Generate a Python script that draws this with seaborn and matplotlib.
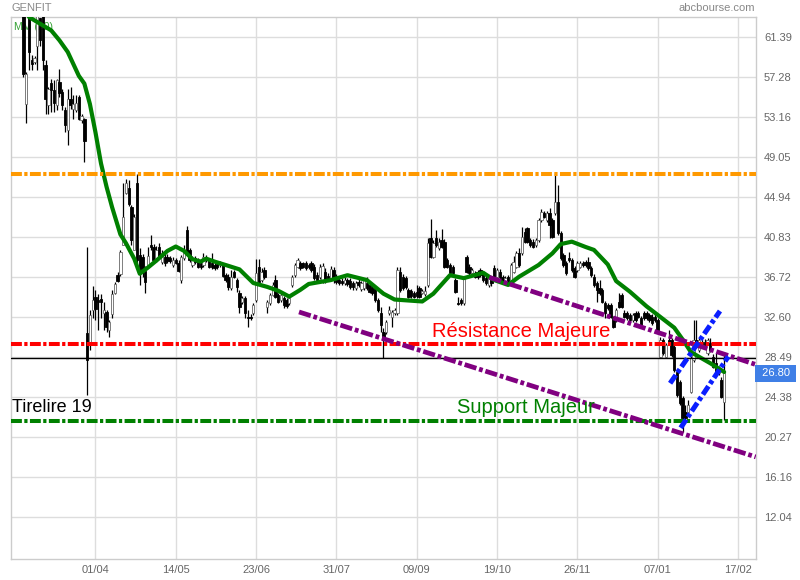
import numpy as np
import pandas as pd
import matplotlib
matplotlib.use("Agg")
import matplotlib.pyplot as plt
import matplotlib.transforms as mtransforms
import seaborn as sns

# ---- daily candles (trading day index 0..253) ----
opens = [
    64.5, 54.47, 64.0, 59.06, 58.79, 60.46, 63.3, 63.9, 58.48, 54.37,
    56.66, 55.97, 54.37, 56.76, 55.74, 53.92, 51.8, 55.05, 54.02, 53.85,
    55.22, 52.9, 52.99, 30.96,
    29.9, 33.32, 34.69, 34.35, 34.45, 32.98, 33.15, 31.27, 32.91, 35.1,
    36.92, 37.02, 40.01, 45.38, 45.83, 43.88, 39.49, 46.35,
    38.98, 38.8, 37.36, 37.95, 40.01, 39.83, 38.46, 39.83, 38.29, 38.77,
    38.8, 38.64, 37.95, 38.46, 38.19, 36.41, 38.67, 41.55,
    39.49, 37.95, 38.64, 38.46, 38.12, 37.95, 38.8, 38.46, 38.12, 37.95,
    38.05, 37.95, 37.95, 36.92, 36.75, 35.55, 37.26, 36.41, 35.04, 34.18,
    34.53, 32.63, 32.63, 32.98, 34.35, 37.77, 36.41, 37.44, 33.66, 34.01,
    34.87, 36.41, 34.87, 34.35, 34.53, 34.35, 34.01, 35.89, 36.92, 37.77,
    38.12, 38.12, 38.12, 37.95, 38.12, 37.77, 36.92, 36.75, 36.41, 37.26,
    36.82, 36.58, 37.44, 36.75, 36.41, 36.33, 36.07, 36.41, 36.33, 36.07,
    35.55, 36.23, 35.45, 35.55, 36.13, 35.89, 35.55, 35.38, 34.35, 32.98,
    31.09, 31.09, 32.98, 32.63, 32.98, 32.98, 37.26, 36.75, 36.58, 35.38,
    35.31, 35.04, 35.2, 35.55, 35.12, 34.97, 35.89, 40.69, 38.8, 40.69,
    39.67, 40.52, 40.34, 38.46, 37.95, 37.77, 36.41, 34.01, 34.35, 34.01,
    38.74, 37.77, 37.1, 37.1, 37.26, 37.44, 37.1, 36.58, 35.89, 36.41,
    37.61, 36.75, 37.26, 36.75, 36.23, 36.75, 36.41, 37.26, 37.77, 39.15,
    39.15, 41.37, 41.72, 40.52, 40.34, 40.01, 40.52, 42.58, 43.26, 42.58,
    43.26, 42.58, 43.26, 44.46, 41.21, 38.98, 38.12, 38.64, 38.46, 37.61,
    37.44, 37.77, 38.12, 38.29, 38.29, 37.61, 36.75, 36.07, 35.55, 35.38,
    34.01, 33.84, 33.84, 32.47, 32.29, 34.18, 34.87, 33.05, 32.98, 32.81,
    32.29, 32.98, 32.98, 32.47, 32.98, 32.98, 32.81, 32.63, 32.63, 32.29,
    28.52, 30.24, 28.52, 30.24, 30.24, 29.55, 26.98, 25.95, 24.28, 22.87,
    22.87, 24.92, 28.18, 30.24, 29.21, 30.07, 30.07, 28.87, 29.9, 28.52,
    27.84, 26.81, 26.13, 23.89]

closes = [
    57.56, 57.56, 59.85, 58.58, 59.26, 63.8, 61.1, 59.0, 55.05, 56.07,
    55.91, 54.6, 56.94, 55.63, 54.37, 52.31, 55.05, 54.37, 54.47, 54.6,
    52.99, 53.27, 50.7, 28.21,
    32.81, 34.35, 33.39, 34.18, 34.18, 33.32, 31.61, 32.12, 34.97, 36.0,
    36.3, 39.32, 42.92, 46.35, 44.22, 40.52, 42.92, 38.46,
    37.61, 37.44, 36.23, 38.87, 39.83, 38.46, 39.49, 38.87, 39.15, 38.15,
    38.36, 38.39, 38.46, 38.19, 37.36, 38.8, 39.49, 39.15,
    38.46, 38.64, 38.29, 37.77, 37.71, 38.8, 38.46, 37.77, 37.71, 37.61,
    37.71, 38.12, 36.82, 36.41, 35.66, 36.75, 36.75, 35.66, 33.6, 34.53,
    32.98, 32.47, 32.47, 33.84, 37.1, 36.23, 37.26, 36.75, 34.18, 34.87,
    35.89, 34.69, 34.18, 34.87, 33.84, 33.73, 34.53, 36.75, 37.95, 38.46,
    37.61, 37.77, 37.61, 37.71, 37.44, 36.58, 36.41, 37.77, 37.85, 36.41,
    36.51, 37.51, 36.41, 36.23, 36.13, 36.07, 36.41, 36.0, 35.72, 35.66,
    36.07, 35.89, 36.07, 36.41, 35.55, 35.2, 35.04, 34.35, 33.32, 31.78,
    30.24, 32.12, 33.32, 33.15, 33.32, 37.44, 35.38, 35.55, 35.72, 34.69,
    34.76, 34.69, 34.76, 34.69, 35.27, 35.31, 40.18, 38.8, 40.18, 40.01,
    40.34, 39.83, 37.77, 37.77, 37.1, 37.1, 35.2, 33.94, 34.01, 36.58,
    37.26, 37.1, 37.44, 36.75, 36.68, 36.92, 36.41, 36.07, 36.58, 36.07,
    36.75, 37.44, 36.75, 36.41, 36.58, 36.23, 37.95, 38.29, 39.15, 37.95,
    40.86, 40.34, 40.34, 40.01, 39.83, 40.52, 42.58, 43.43, 42.92, 43.26,
    42.06, 40.86, 44.46, 41.21, 38.64, 37.95, 37.1, 38.46, 37.44, 36.75,
    38.12, 38.12, 37.95, 37.95, 37.61, 36.92, 35.89, 35.38, 35.04, 34.18,
    32.98, 33.5, 32.63, 31.61, 33.32, 33.66, 33.66, 32.63, 32.47, 32.29,
    32.81, 32.29, 32.63, 31.78, 32.47, 32.47, 32.29, 31.96, 32.29, 31.27,
    30.24, 28.87, 29.73, 29.9, 28.7, 27.15, 24.58, 23.73, 22.19, 22.19,
    23.56, 28.36, 30.24, 29.55, 30.24, 29.73, 29.55, 30.24, 29.21, 27.49,
    26.81, 27.33, 24.41, 26.8]

highs = [
    65.0, 57.8, 64.5, 59.54, 59.4, 64.0, 64.0, 64.5, 59.0, 56.3,
    57.1, 56.97, 57.1, 58.13, 56.07, 54.2, 56.07, 56.25, 55.43, 55.43,
    55.43, 53.5, 53.1, 39.8,
    33.32, 35.79, 35.38, 34.97, 34.97, 34.18, 33.32, 32.29, 35.38, 36.2,
    37.26, 39.49, 46.35, 46.76, 46.69, 44.1, 43.19, 47.31,
    39.67, 39.08, 37.85, 39.83, 41.03, 40.1, 39.9, 40.2, 39.49, 39.08,
    39.08, 38.87, 38.77, 38.67, 38.46, 38.98, 40.0, 41.96,
    39.7, 38.87, 38.87, 38.67, 38.36, 39.18, 38.98, 38.67, 39.15, 38.15,
    38.26, 38.36, 38.15, 37.13, 37.02, 37.44, 37.44, 36.61, 35.38, 34.76,
    34.76, 33.32, 32.91, 34.04, 38.54, 38.54, 37.64, 37.77, 34.35, 35.07,
    36.2, 36.92, 35.07, 35.07, 34.76, 34.56, 34.76, 36.92, 38.15, 38.64,
    38.36, 38.26, 38.36, 38.15, 38.36, 38.05, 37.2, 38.05, 38.15, 37.64,
    37.13, 37.85, 37.74, 37.02, 36.72, 36.61, 36.72, 36.61, 36.61, 36.3,
    36.3, 36.51, 36.3, 36.61, 36.75, 36.1, 35.79, 35.59, 34.56, 33.66,
    31.47, 32.29, 33.73, 33.32, 33.53, 37.77, 37.77, 37.02, 36.82, 35.59,
    35.48, 35.27, 35.89, 35.79, 35.48, 35.79, 40.69, 42.65, 40.52, 41.55,
    40.72, 41.62, 40.62, 38.67, 38.15, 37.95, 36.61, 34.69, 34.56, 36.82,
    38.98, 38.05, 37.64, 37.33, 37.44, 37.64, 37.33, 36.82, 36.82, 36.61,
    37.95, 37.64, 37.54, 36.92, 36.82, 36.92, 38.15, 38.87, 39.39, 39.67,
    41.89, 41.75, 41.89, 40.72, 40.62, 40.72, 42.78, 43.71, 43.5, 43.5,
    43.78, 42.78, 47.38, 46.17, 41.44, 39.18, 38.36, 39.32, 38.67, 37.85,
    38.36, 38.36, 38.36, 38.46, 38.8, 37.85, 37.02, 36.3, 36.41, 35.59,
    34.25, 34.04, 34.04, 32.71, 33.53, 35.04, 35.04, 33.32, 33.22, 33.01,
    33.01, 33.22, 33.22, 32.71, 33.22, 33.22, 33.01, 32.91, 32.91, 32.5,
    30.58, 30.45, 29.94, 31.27, 30.45, 29.73, 27.15, 26.13, 24.48, 23.56,
    24.07, 28.59, 32.29, 32.29, 30.45, 30.35, 30.35, 30.45, 30.41, 28.8,
    28.87, 27.56, 26.47, 28.7]

lows = [
    57.3, 52.58, 58.0, 58.0, 58.6, 58.0, 60.5, 58.0, 53.44, 53.47,
    53.68, 53.68, 53.89, 55.22, 53.89, 51.62, 50.26, 54.0, 52.99, 53.68,
    52.86, 52.5, 48.54, 24.55,
    29.21, 32.47, 32.29, 31.27, 32.5, 31.27, 31.09, 30.58, 32.5, 34.97,
    36.23, 36.82, 40.01, 45.25, 44.0, 40.01, 39.49, 37.95,
    35.89, 36.75, 35.04, 37.74, 39.49, 38.26, 38.26, 38.67, 38.05, 37.85,
    38.15, 38.15, 37.74, 38.05, 37.2, 36.07, 38.46, 38.98,
    38.26, 37.74, 38.05, 37.61, 37.54, 37.74, 38.26, 37.61, 37.54, 37.44,
    37.54, 37.77, 36.72, 36.2, 35.38, 35.38, 36.58, 35.2, 33.01, 33.94,
    32.47, 31.54, 32.29, 32.81, 34.18, 36.07, 36.2, 36.51, 32.98, 33.84,
    34.76, 34.53, 34.01, 34.14, 33.5, 33.5, 33.84, 35.69, 36.72, 37.64,
    37.44, 37.64, 37.44, 37.54, 37.2, 36.41, 36.1, 36.51, 36.1, 36.1,
    36.3, 36.41, 36.1, 36.0, 35.89, 35.89, 35.89, 35.79, 35.48, 35.38,
    35.38, 35.69, 35.27, 35.38, 35.38, 35.07, 34.87, 34.14, 33.12, 31.09,
    28.36, 30.85, 32.81, 31.61, 32.81, 32.81, 35.17, 35.38, 35.48, 34.56,
    34.56, 34.56, 34.53, 34.56, 34.97, 34.76, 35.69, 38.67, 38.67, 39.8,
    39.49, 39.7, 37.64, 37.64, 36.92, 36.92, 35.04, 33.84, 33.84, 33.84,
    37.13, 36.92, 36.92, 36.61, 36.51, 36.72, 36.2, 35.89, 35.69, 35.79,
    36.51, 36.61, 36.51, 36.2, 36.1, 36.1, 36.2, 37.13, 37.64, 37.74,
    38.98, 40.21, 40.21, 39.8, 39.7, 39.8, 40.31, 42.37, 42.78, 42.37,
    40.69, 40.72, 43.09, 41.03, 38.46, 37.74, 36.92, 38.26, 37.23, 36.58,
    37.23, 37.64, 37.74, 37.74, 37.44, 36.72, 35.69, 34.18, 34.87, 34.04,
    32.47, 33.32, 32.5, 31.47, 32.09, 33.53, 33.53, 32.5, 32.29, 32.09,
    32.09, 32.09, 32.5, 31.57, 32.29, 32.29, 32.09, 31.78, 32.09, 31.06,
    28.39, 28.7, 28.39, 29.73, 28.49, 26.95, 24.38, 23.56, 20.81, 22.01,
    22.53, 24.79, 27.97, 29.42, 29.01, 29.52, 29.42, 28.7, 29.01, 27.36,
    26.64, 26.64, 24.28, 22.01]

# MM (20) read at some trading days
mm_bars = [2, 5, 7, 10, 13, 16, 20, 22, 24, 26, 28, 30, 32, 35, 37, 40, 42,
           45, 48, 52, 55, 58, 61, 64, 66, 69, 73, 78, 83, 88, 92, 96, 100,
           103, 111, 117, 124, 130, 134, 144, 148, 154, 159, 166, 170, 175,
           179, 186, 191, 194, 198, 203, 206, 211, 214, 219, 225, 230, 235,
           238, 241, 244, 248, 253]
mm_vals = [63.45, 62.93, 62.59, 62.08, 61.05, 59.85, 57.4, 56.6, 54.5, 51.6,
           48.4, 46.0, 43.9, 41.1, 40.2, 38.6, 37.05, 37.7, 38.4, 39.4, 39.85,
           39.4, 38.55, 38.3, 38.6, 38.3, 37.95, 37.5, 36.1, 35.7, 35.3, 34.7,
           35.4, 36.0, 36.4, 36.9, 36.4, 35.0, 34.4, 34.2, 35.0, 36.9, 36.6,
           37.15, 36.4, 35.9, 36.75, 37.95, 39.15, 40.1, 40.35, 39.8, 39.5,
           38.0, 36.3, 35.2, 33.7, 32.6, 31.5, 30.3, 29.0, 28.5, 27.85, 26.95]

# horizontal levels and drawn trend lines
level_orange = 47.32
level_red = 29.86
level_green = 21.87
level_black = 28.37
last_price = 26.80
purple_lines = [([99.5, 264.4], [33.12, 18.22]), ([168.2, 264.4], [36.68, 27.72])]
blue_lines = [([233.5, 251.5], [25.79, 33.22]), ([237.3, 254.5], [21.21, 28.54])]

y_ticks = [61.39, 57.28, 53.16, 49.05, 44.94, 40.83, 36.72, 32.60, 28.49,
           24.38, 20.27, 16.16, 12.04]
x_tick_bars = [26, 55, 84, 113, 142, 171, 200, 229, 258]
x_tick_labels = ["01/04", "14/05", "23/06", "31/07", "09/09", "19/10",
                 "26/11", "07/01", "17/02"]

assert len(opens) == len(closes) == len(highs) == len(lows) == 254

df = pd.DataFrame({"open": opens, "high": highs, "low": lows, "close": closes})
df["day"] = np.arange(len(df))
df["high"] = df[["high", "open", "close"]].max(axis=1)
df["low"] = df[["low", "open", "close"]].min(axis=1)
up = df["close"] >= df["open"]

sns.set_theme(style="whitegrid")
plt.rcParams["font.family"] = ["Liberation Sans", "DejaVu Sans"]

fig = plt.figure(figsize=(8, 5.8), dpi=100)
ax = fig.add_axes([0.01338, 0.03621, 0.93125, 0.93448])
ax.set_facecolor("white")

# candles
ax.vlines(df["day"], df["low"], df["high"], color="black", lw=0.9, zorder=2)
body = (df["close"] - df["open"]).abs().clip(lower=0.07)
ax.bar(df["day"], body, bottom=df[["open", "close"]].min(axis=1), width=0.85,
       color=np.where(up, "white", "black"),
       edgecolor=np.where(up, "#6a6a6a", "black"), linewidth=0.6, zorder=3)

# moving average
sns.lineplot(x=mm_bars, y=mm_vals, color="#008000", lw=3.0, ax=ax, zorder=4,
             solid_joinstyle="round", solid_capstyle="round")

dashdot = (0, (2.7, 0.6, 0.8, 0.6))
ax.axhline(level_black, color="black", lw=1.0, zorder=4)
ax.axhline(level_orange, color="#ff9900", lw=2.9, ls=dashdot, zorder=5)
ax.axhline(level_red, color="#ff0000", lw=2.9, ls=dashdot, zorder=5)
ax.axhline(level_green, color="#008000", lw=2.9, ls=dashdot, zorder=5)
for xs, ys in purple_lines:
    ax.plot(xs, ys, color="#800080", lw=3.4, ls=(0, (2.6, 0.6, 0.8, 0.6)), zorder=6)
for xs, ys in blue_lines:
    ax.plot(xs, ys, color="#0a1eff", lw=3.6, ls=(0, (2.0, 0.6, 0.8, 0.6)), zorder=7)

# annotations
ax.text(147.4, 30.58, "Résistance Majeure", color="#ff0000", fontsize=14.5,
        va="baseline", ha="left", zorder=8)
ax.text(156.7, 22.70, "Support Majeur", color="#008000", fontsize=14.5,
        va="baseline", ha="left", zorder=8)
ax.text(-4.0, 22.87, "Tirelire 19", color="black", fontsize=13,
        va="baseline", ha="left", zorder=8)
ax.text(0.004, 0.99, "MM (20)", transform=ax.transAxes, color="#33a033",
        fontsize=7.5, va="top", ha="left", zorder=1)

# axes
ax.set_xlim(-4.6, 264.4)
ax.set_ylim(7.72, 63.45)
ax.yaxis.tick_right()
ax.set_yticks(y_ticks)
ax.set_yticklabels([f"{v:.2f}" for v in y_ticks])
ax.set_xticks(x_tick_bars)
ax.set_xticklabels(x_tick_labels)
ax.tick_params(axis="both", length=0, labelsize=8, labelcolor="#666666")
ax.tick_params(axis="y", pad=6)
ax.tick_params(axis="x", pad=4)
ax.grid(True, color="#dddddd", lw=1.0)
for s in ax.spines.values():
    s.set_color("#cccccc")
    s.set_linewidth(1.0)
ax.set_xlabel("")
ax.set_ylabel("")

# last price tag on the right axis
trans = mtransforms.blended_transform_factory(ax.transAxes, ax.transData)
ax.text(1.004, last_price, " 26.80 ", transform=trans, color="white", fontsize=8,
        va="center", ha="left", clip_on=False,
        bbox=dict(boxstyle="square,pad=0.3", fc="#3f7fe6", ec="none"))

fig.text(12 / 800, 1 - 8 / 580, "GENFIT", color="#888888", fontsize=8, va="center")
fig.text(755 / 800, 1 - 8 / 580, "abcbourse.com", color="#888888", fontsize=8,
         va="center", ha="right")

fig.savefig("out.png", dpi=100)
